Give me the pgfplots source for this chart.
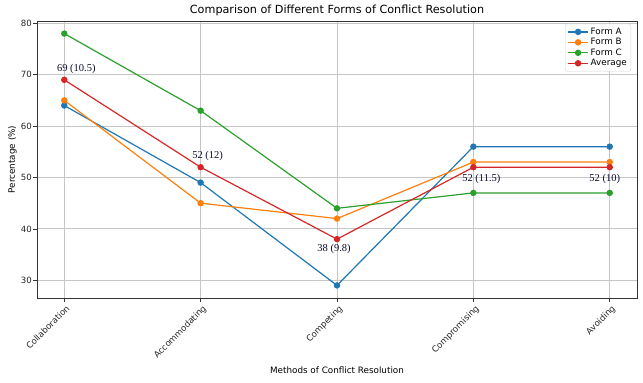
\documentclass[border=0pt]{standalone}
\usepackage{pgfplots}
\pgfplotsset{compat=1.18}
\usepackage{fontspec}
\setmainfont{DejaVu Sans}
\newfontfamily\annfont{Liberation Serif}
\definecolor{tabblue}{HTML}{1F77B4}
\definecolor{taborange}{HTML}{FF7F0E}
\definecolor{tabgreen}{HTML}{2CA02C}
\definecolor{tabred}{HTML}{D62728}
\definecolor{anncol}{rgb}{0.04,0.04,0.18}
\pgfplotsset{ser/.style={color=#1, line width=1.2pt, mark=*, mark size=2.6pt, mark options={fill=#1, draw=#1, solid}}}
\begin{document}
\begin{tikzpicture}[x=1pt,y=1pt]
\path[use as bounding box] (0,0) rectangle (643,383);
\begin{axis}[
  at={(37pt,85pt)}, anchor=south west,
  scale only axis, width=600pt, height=277pt,
  xmin=-0.2, xmax=4.2, ymin=26.55, ymax=80.45,
  xtick={0,1,2,3,4},
  xticklabels={Collaboration,Accommodating,Competing,Compromising,Avoiding},
  ytick={30,40,50,60,70,80},
  xtick pos=bottom, ytick pos=left,
  /pgf/number format/assume math mode=true,
  ticklabel style={font=\fontsize{8.6}{10}\selectfont, text=black!85},
  yticklabel style={inner sep=1.5pt},
  xticklabel style={rotate=45, anchor=north east, inner sep=1pt, yshift=-2pt},
  tick align=outside, major tick length=3.5pt,
  tick style={black!80, line width=0.6pt},
  axis line style={black!80, line width=0.6pt},
  grid=major, major grid style={gray!45, line width=0.8pt},
  title={Comparison of Different Forms of Conflict Resolution},
  title style={font=\fontsize{11.2}{12}\selectfont, yshift=-4pt},
  xlabel={Methods of Conflict Resolution},
  xlabel style={font=\fontsize{8.8}{10}\selectfont, at={(0.5,0)}, anchor=center, yshift=-72pt},
  ylabel={Percentage (\%)},
  ylabel style={font=\fontsize{8.8}{10}\selectfont, yshift=-1pt},
  legend style={font=\fontsize{8.8}{10}\selectfont, draw=gray!35, rounded corners=2pt, fill=white, row sep=-1.5pt, inner sep=2pt, at={(0.99,0.99)}, anchor=north east},
  legend cell align=left,
  legend image code/.code={\draw[mark repeat=2, mark phase=2, #1] plot coordinates {(0pt,0pt) (10pt,0pt) (20pt,0pt)};},
]
\addplot[ser=tabblue] coordinates {(0,64) (1,49) (2,29) (3,56) (4,56)};
\addlegendentry{Form A}
\addplot[ser=taborange] coordinates {(0,65) (1,45) (2,42) (3,53) (4,53)};
\addlegendentry{Form B}
\addplot[ser=tabgreen] coordinates {(0,78) (1,63) (2,44) (3,47) (4,47)};
\addlegendentry{Form C}
\addplot[ser=tabred] coordinates {(0,69) (1,52) (2,38) (3,52) (4,52)};
\addlegendentry{Average}
\node[font=\annfont\fontsize{10.5}{12}\selectfont, text=anncol, inner sep=0pt] at (axis cs:0,69) [xshift=12pt, yshift=11pt] {69 (10.5)};
\node[font=\annfont\fontsize{10.5}{12}\selectfont, text=anncol, inner sep=0pt] at (axis cs:1,52) [xshift=7pt, yshift=11pt] {52 (12)};
\node[font=\annfont\fontsize{10.5}{12}\selectfont, text=anncol, inner sep=0pt] at (axis cs:2,38) [xshift=-3pt, yshift=-10pt] {38 (9.8)};
\node[font=\annfont\fontsize{10.5}{12}\selectfont, text=anncol, inner sep=0pt] at (axis cs:3,52) [xshift=8pt, yshift=-12pt] {52 (11.5)};
\node[font=\annfont\fontsize{10.5}{12}\selectfont, text=anncol, inner sep=0pt] at (axis cs:4,52) [xshift=-5pt, yshift=-12pt] {52 (10)};
\end{axis}
\end{tikzpicture}
\end{document}
